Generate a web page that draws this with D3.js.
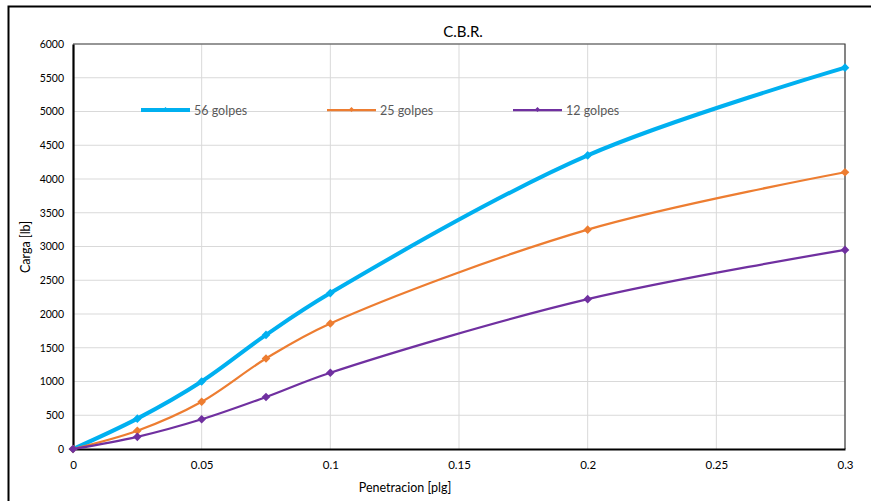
<!DOCTYPE html>
<html>
<head>
<meta charset="utf-8">
<script src="https://cdn.jsdelivr.net/npm/d3@7"></script>
<style>
  html, body { margin: 0; padding: 0; background: #fff; }
  svg { display: block; }
  text { font-family: Lato, "Open Sans", "Liberation Sans", sans-serif; }
</style>
</head>
<body>
<svg id="chart" width="871" height="501"></svg>
<script>
// Penetration depths [plg]
const penetracion = [0, 0.025, 0.05, 0.075, 0.1, 0.2, 0.3];
// Load [lb] for each compaction energy
const carga56 = [0, 450, 1000, 1690, 2310, 4350, 5650];
const carga25 = [0, 270, 700, 1340, 1860, 3250, 4100];
const carga12 = [0, 180, 440, 770, 1130, 2220, 2950];
const seriesNames = ["56 golpes", "25 golpes", "12 golpes"];
const seriesColors = ["#00B0F0", "#ED7D31", "#7030A0"];
const seriesWidths = [4, 2.25, 2.25];
const xTicks = [0, 0.05, 0.1, 0.15, 0.2, 0.25, 0.3];
const yTicks = d3.range(0, 6001, 500);

const svg = d3.select("#chart");
const W = 871, H = 501;
const m = { left: 73, top: 44, right: 845, bottom: 449 };

// Chart frame
svg.append("rect")
  .attr("x", 8.5).attr("y", 6.5)
  .attr("width", W + 10).attr("height", H + 10)
  .attr("fill", "none").attr("stroke", "#000").attr("stroke-width", 2);

const x = d3.scaleLinear().domain([0, 0.3]).range([m.left, m.right]);
const y = d3.scaleLinear().domain([0, 6000]).range([m.bottom, m.top]);

// Grid
const grid = svg.append("g");
grid.selectAll("line.v").data(xTicks.slice(1)).join("line")
  .attr("x1", d => x(d)).attr("x2", d => x(d))
  .attr("y1", m.top).attr("y2", m.bottom)
  .attr("stroke", "#D9D9D9").attr("stroke-width", 1);
grid.selectAll("line.h").data(yTicks.slice(1)).join("line")
  .attr("x1", m.left).attr("x2", m.right)
  .attr("y1", d => y(d)).attr("y2", d => y(d))
  .attr("stroke", "#D9D9D9").attr("stroke-width", 1);

// Plot-area border (top / right)
svg.append("path")
  .attr("d", `M${m.left},${m.top}H${m.right}V${m.bottom}`)
  .attr("fill", "none").attr("stroke", "#404040").attr("stroke-width", 1.2);

// Axes
const xAxis = d3.axisBottom(x).tickValues(xTicks).tickSize(0).tickPadding(12)
  .tickFormat(d => d === 0 ? "0" : String(+d.toFixed(2)));
const yAxis = d3.axisLeft(y).tickValues(yTicks).tickSize(0).tickPadding(9)
  .tickFormat(d3.format("d"));

const gx = svg.append("g").attr("transform", `translate(0,${m.bottom})`).call(xAxis);
const gy = svg.append("g").attr("transform", `translate(${m.left},0)`).call(yAxis);
[gx, gy].forEach(g => {
  g.select(".domain").attr("stroke", "#000").attr("stroke-width", 2.2);
  g.selectAll("text").attr("fill", "#000").style("font-size", "11.5px");
});
gy.selectAll("text").style("font-size", "10.5px");

// Square diamond marker of half-diagonal r
const diamondPath = r => `M0,${-r}L${r},0L0,${r}L${-r},0Z`;

// Series
const series = [carga56, carga25, carga12];
const line = d3.line()
  .x((d, i) => x(penetracion[i]))
  .y(d => y(d))
  .curve(d3.curveCatmullRom.alpha(0.5));

series.forEach((vals, s) => {
  const g = svg.append("g");
  g.append("path").datum(vals)
    .attr("d", line)
    .attr("fill", "none")
    .attr("stroke", seriesColors[s])
    .attr("stroke-width", seriesWidths[s])
    .attr("stroke-linejoin", "round");
  g.selectAll("path.m").data(vals).join("path")
    .attr("class", "m")
    .attr("d", diamondPath(4.3))
    .attr("transform", (d, i) => `translate(${x(penetracion[i])},${y(d)})`)
    .attr("fill", seriesColors[s]);
});

// Legend
const legendX = [141, 327, 513];
const legendY = 110;
seriesNames.forEach((name, s) => {
  const g = svg.append("g").attr("transform", `translate(${legendX[s]},${legendY})`);
  g.append("line").attr("x1", 0).attr("x2", 49).attr("y1", 0).attr("y2", 0)
    .attr("stroke", seriesColors[s]).attr("stroke-width", seriesWidths[s]);
  g.append("path").attr("d", diamondPath(2.5))
    .attr("transform", "translate(24.5,-0.5)").attr("fill", seriesColors[s]);
  g.append("text").attr("x", 53).attr("y", 4.5)
    .attr("fill", "#595959").style("font-size", "12.5px")
    .text(name);
});

// Titles
svg.append("text").attr("x", 463).attr("y", 37).attr("text-anchor", "middle")
  .attr("fill", "#000").style("font-size", "15px").text("C.B.R.");
svg.append("text").attr("x", 405).attr("y", 492).attr("text-anchor", "middle")
  .attr("fill", "#000").style("font-size", "12.5px").text("Penetracion  [plg]");
svg.append("text")
  .attr("transform", "translate(30,247) rotate(-90)")
  .attr("text-anchor", "middle")
  .attr("fill", "#000").style("font-size", "12.5px").text("Carga [lb]");
</script>
</body>
</html>
